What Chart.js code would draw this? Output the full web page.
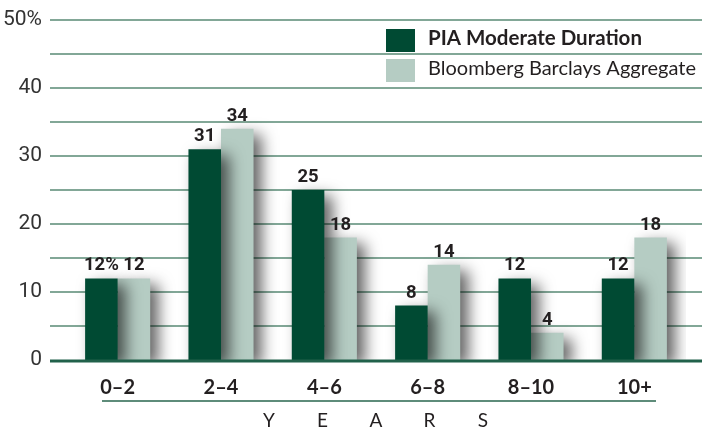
<!DOCTYPE html>
<html><head><meta charset="utf-8">
<script src="https://cdn.jsdelivr.net/npm/chart.js@4.4.0/dist/chart.umd.min.js"></script>
<style>html,body{margin:0;padding:0;background:#fff;overflow:hidden}#wrap{width:702px;height:428px}</style>
</head><body><div id="wrap"><canvas id="c" width="702" height="428"></canvas></div>
<script>
const categories = ['0–2', '2–4', '4–6', '6–8', '8–10', '10+'];
const seriesNames = ['PIA Moderate Duration', 'Bloomberg Barclays Aggregate'];
const piaValues = [12, 31, 25, 8, 12, 12];
const bbaValues = [12, 34, 18, 14, 4, 18];
const yTickLabels = {0: '0', 10: '10', 20: '20', 30: '30', 40: '40', 50: '50%'};
const axisTitle = 'YEARS';

const DARK = '#004a33', LIGHT = '#b5ccc3';
const NUM = 'Roboto, "Open Sans", sans-serif';
const SANS = 'Lato, "Open Sans", sans-serif';

const gridPlugin = {
  id: 'gridLines',
  beforeDatasetsDraw(chart) {
    const ctx = chart.ctx, y = chart.scales.y;
    ctx.save();
    ctx.strokeStyle = '#82a797';
    ctx.lineWidth = 2;
    y.ticks.forEach(t => {
      if (t.value === 0) return;
      const py = Math.round(y.getPixelForValue(t.value));
      ctx.beginPath(); ctx.moveTo(50, py); ctx.lineTo(702, py); ctx.stroke();
    });
    ctx.restore();
  }
};

const shadowPlugin = {
  id: 'barShadow',
  beforeDatasetDraw(chart) {
    const ctx = chart.ctx;
    ctx.save();
    ctx.shadowColor = 'rgba(0,0,0,0.62)';
    ctx.shadowBlur = 15;
    ctx.shadowOffsetX = 8;
    ctx.shadowOffsetY = 6;
  },
  afterDatasetDraw(chart) { chart.ctx.restore(); }
};

const decorPlugin = {
  id: 'decor',
  afterDatasetsDraw(chart) {
    const ctx = chart.ctx, ys = chart.scales.y, area = chart.chartArea;
    ctx.save();
    // zero line
    const y0 = ys.getPixelForValue(0);
    ctx.strokeStyle = '#21614a';
    ctx.lineWidth = 3;
    ctx.beginPath(); ctx.moveTo(50, y0 + 1); ctx.lineTo(702, y0 + 1); ctx.stroke();
    // value labels
    ctx.fillStyle = '#231f20';
    ctx.font = 'bold 18.5px ' + NUM;
    ctx.textAlign = 'center';
    ctx.textBaseline = 'alphabetic';
    chart.data.datasets.forEach((ds, di) => {
      chart.getDatasetMeta(di).data.forEach((bar, i) => {
        let txt = String(ds.data[i]);
        if (di === 0 && i === 0) txt += '%';
        ctx.fillText(txt, bar.x, bar.y - 8);
      });
    });
    // legend
    const lx = 386, rows = [29, 59];
    chart.data.datasets.forEach((ds, di) => {
      ctx.fillStyle = ds.backgroundColor;
      ctx.fillRect(lx, rows[di], 29, 23);
      ctx.fillStyle = '#231f20';
      ctx.textAlign = 'left';
      ctx.font = (di === 0 ? 'bold 20.5px ' : '20px ') + SANS;
      ctx.fillText(ds.label, 428, rows[di] + 16);
    });
    // underline below categories
    ctx.strokeStyle = '#5e8c7a';
    ctx.lineWidth = 2;
    ctx.beginPath(); ctx.moveTo(102, 401); ctx.lineTo(656, 401); ctx.stroke();
    // axis title letters
    ctx.fillStyle = '#231f20';
    ctx.font = '19px ' + SANS;
    ctx.textAlign = 'center';
    const cx = (area.left + area.right) / 2;
    const letters = axisTitle.split('');
    letters.forEach((ch, i) => {
      ctx.fillText(ch, cx + (i - (letters.length - 1) / 2) * 53.5, 427);
    });
    ctx.restore();
  }
};

new Chart(document.getElementById('c'), {
  type: 'bar',
  data: {
    labels: categories,
    datasets: [
      {label: seriesNames[0], data: piaValues, backgroundColor: DARK},
      {label: seriesNames[1], data: bbaValues, backgroundColor: LIGHT}
    ]
  },
  options: {
    responsive: false,
    animation: false,
    devicePixelRatio: 1,
    layout: {padding: {top: 20, right: 16, left: 0, bottom: 0}},
    datasets: {bar: {barPercentage: 1, categoryPercentage: 0.63, borderWidth: 0, inflateAmount: 0}},
    plugins: {legend: {display: false}, tooltip: {enabled: false}},
    scales: {
      x: {
        type: 'category',
        offset: true,
        grid: {display: false, drawTicks: false},
        border: {display: false},
        ticks: {font: {family: SANS, size: 20, weight: 'bold'}, color: '#231f20', padding: 16, maxRotation: 0},
        afterFit(s) { s.height = 68; s.paddingLeft = 0; s.paddingRight = 0; }
      },
      y: {
        min: 0, max: 50,
        grid: {display: false, drawTicks: false},
        border: {display: false},
        ticks: {
          stepSize: 5,
          autoSkip: false,
          font: {family: NUM, size: 21},
          color: '#333333',
          padding: 24,
          callback: v => (v in yTickLabels ? yTickLabels[v] : '')
        },
        afterFit(s) { s.width = 66; s.paddingTop = 0; s.paddingBottom = 0; }
      }
    }
  },
  plugins: [gridPlugin, shadowPlugin, decorPlugin]
});
</script>
</body></html>
